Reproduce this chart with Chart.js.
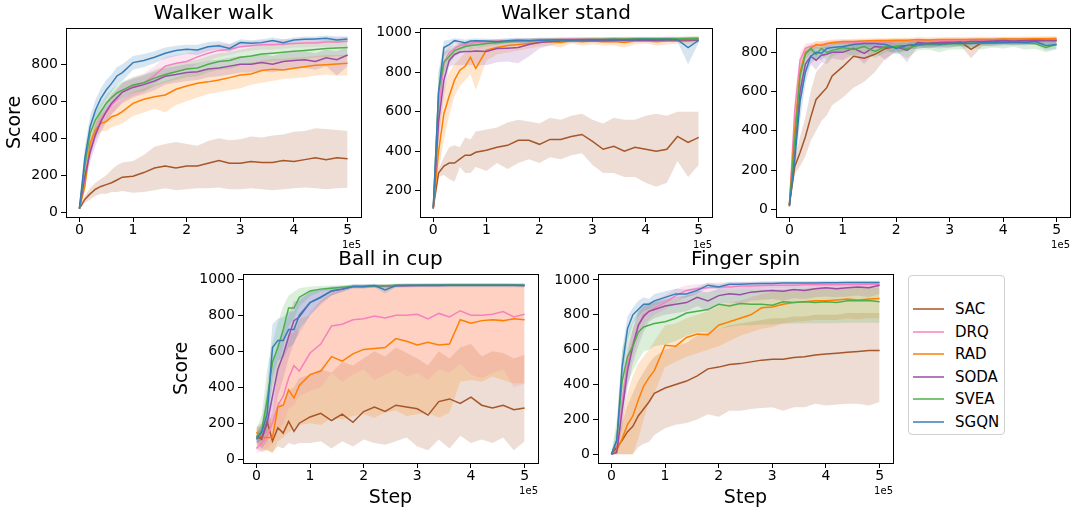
<!DOCTYPE html>
<html>
<head>
<meta charset="utf-8">
<script src="https://cdn.jsdelivr.net/npm/chart.js@4.4.0/dist/chart.umd.min.js"></script>
<style>
  body { margin: 0; background: #fff; }
  #page { position: relative; width: 1077px; height: 515px; overflow: hidden; background: #fff; }
  canvas { position: absolute; }
  #legend { position: absolute; left: 908px; top: 275px; width: 97px; height: 160px; border: 1px solid #d0d0d0; border-radius: 4px; box-sizing: border-box; font-family: 'DejaVu Sans', sans-serif; font-size: 15px; color: #000; }
  .row { position: absolute; left: 0; height: 22px; display: flex; align-items: center; }
  .swatch { width: 31px; height: 2px; margin-left: 4px; margin-right: 11px; opacity: 0.75; }
</style>
</head>
<body>
<div id="page"><div id="legend"></div></div>
<script>
// x positions of the logged evaluations (env steps)
const steps = [0, 1e4, 2e4, 3e4, 4e4, 5e4, 6e4, 7e4, 8e4, 10e4, 12e4, 14e4, 16e4, 18e4, 20e4, 22e4, 24e4, 26e4, 28e4, 30e4, 32e4, 34e4, 36e4, 38e4, 40e4, 42e4, 44e4, 46e4, 48e4, 50e4];
const methods = ['SAC', 'DRQ', 'RAD', 'SODA', 'SVEA', 'SGQN'];
const colors = ['#a65628', '#f781bf', '#ff7f00', '#984ea3', '#4daf4a', '#377eb8'];
const xTicks = [0, 1e5, 2e5, 3e5, 4e5, 5e5];

// === Walker walk === (rows: SAC, DRQ, RAD, SODA, SVEA, SGQN)
const walkerWalkMean = [
  [20, 70, 100, 125, 140, 150, 160, 175, 190, 195, 215, 240, 250, 240, 250, 250, 265, 280, 265, 265, 275, 270, 270, 280, 275, 285, 295, 285, 295, 290],
  [20, 200, 340, 440, 500, 540, 580, 610, 650, 680, 700, 740, 790, 805, 815, 840, 860, 875, 880, 895, 900, 905, 905, 910, 912, 915, 915, 920, 920, 925],
  [20, 139, 373, 445, 481, 490, 517, 526, 544, 589, 611, 625, 634, 665, 683, 697, 705, 715, 728, 742, 748, 766, 773, 769, 778, 787, 795, 798, 802, 805],
  [20, 190, 325, 420, 490, 545, 590, 620, 650, 675, 690, 710, 735, 745, 755, 760, 775, 780, 790, 800, 800, 810, 800, 815, 820, 825, 815, 835, 825, 850],
  [20, 250, 427, 500, 545, 590, 620, 645, 660, 688, 700, 725, 745, 760, 775, 780, 800, 815, 820, 838, 845, 855, 860, 865, 870, 875, 880, 885, 888, 890],
  [20, 290, 463, 553, 616, 661, 697, 737, 755, 809, 820, 838, 860, 874, 881, 877, 895, 900, 886, 917, 913, 917, 928, 917, 931, 935, 937, 940, 931, 937]
];
const walkerWalkLow = [
  [15, 50, 70, 90, 100, 100, 110, 110, 115, 106, 110, 120, 130, 120, 125, 130, 130, 135, 125, 125, 130, 125, 120, 125, 130, 135, 130, 125, 130, 133],
  [15, 160, 290, 390, 450, 490, 530, 560, 600, 630, 650, 690, 740, 760, 770, 800, 820, 840, 850, 865, 875, 880, 880, 885, 890, 890, 895, 895, 895, 900],
  [15, 110, 310, 400, 440, 440, 460, 470, 480, 520, 540, 560, 540, 580, 600, 620, 640, 650, 660, 670, 690, 700, 710, 720, 725, 730, 740, 745, 740, 740],
  [15, 140, 270, 360, 430, 490, 530, 560, 590, 620, 640, 660, 690, 700, 710, 715, 730, 735, 745, 755, 755, 765, 755, 770, 775, 780, 770, 790, 740, 790],
  [15, 200, 380, 450, 500, 545, 575, 600, 615, 645, 655, 680, 700, 715, 730, 735, 755, 770, 775, 795, 800, 810, 815, 820, 825, 830, 835, 840, 843, 845],
  [15, 230, 410, 500, 560, 610, 650, 690, 710, 770, 785, 805, 830, 845, 855, 850, 870, 880, 865, 900, 895, 900, 910, 900, 915, 920, 922, 925, 915, 922]
];
const walkerWalkHigh = [
  [25, 90, 130, 160, 180, 200, 230, 255, 270, 277, 310, 355, 370, 380, 369, 360, 385, 400, 390, 395, 410, 405, 415, 420, 436, 440, 455, 450, 445, 440],
  [25, 240, 390, 490, 550, 590, 630, 660, 700, 730, 750, 790, 840, 850, 860, 880, 900, 910, 910, 925, 925, 930, 930, 935, 935, 940, 935, 945, 945, 950],
  [25, 190, 420, 490, 530, 550, 570, 590, 610, 650, 670, 690, 710, 730, 750, 760, 770, 780, 790, 800, 810, 820, 830, 830, 835, 840, 845, 850, 850, 850],
  [25, 240, 380, 480, 550, 600, 640, 670, 700, 720, 740, 760, 780, 790, 800, 805, 820, 825, 835, 845, 845, 855, 845, 860, 865, 870, 860, 880, 870, 900],
  [25, 300, 470, 550, 590, 635, 665, 690, 705, 730, 745, 770, 790, 805, 820, 825, 845, 860, 865, 880, 890, 900, 905, 910, 915, 920, 925, 930, 933, 935],
  [25, 350, 520, 610, 670, 715, 745, 785, 800, 845, 855, 870, 890, 900, 905, 905, 920, 925, 910, 935, 930, 935, 945, 935, 945, 950, 950, 955, 950, 952]
];

// === Walker stand ===
const walkerStandMean = [
  [115, 290, 325, 340, 340, 360, 380, 380, 395, 405, 420, 430, 455, 455, 435, 460, 460, 475, 485, 450, 410, 425, 400, 420, 410, 400, 410, 475, 445, 470],
  [110, 600, 850, 900, 920, 935, 940, 945, 950, 955, 958, 960, 962, 963, 965, 965, 966, 967, 968, 968, 968, 969, 970, 970, 970, 970, 971, 971, 972, 972],
  [110, 400, 590, 680, 760, 810, 830, 875, 819, 912, 925, 935, 940, 945, 950, 955, 950, 960, 955, 958, 955, 955, 950, 958, 960, 955, 958, 960, 958, 965],
  [110, 550, 760, 860, 890, 902, 905, 905, 908, 905, 920, 922, 925, 940, 950, 955, 958, 960, 960, 960, 960, 961, 961, 962, 962, 962, 963, 963, 963, 962],
  [110, 700, 850, 880, 910, 920, 930, 935, 938, 945, 950, 955, 958, 960, 962, 963, 965, 965, 966, 967, 967, 968, 968, 969, 969, 970, 970, 970, 971, 972],
  [115, 700, 925, 940, 960, 955, 948, 958, 960, 958, 955, 960, 962, 960, 962, 963, 965, 963, 965, 964, 965, 966, 965, 966, 967, 966, 967, 965, 925, 962]
];
const walkerStandLow = [
  [110, 270, 280, 260, 245, 320, 290, 290, 320, 300, 340, 310, 340, 360, 340, 370, 360, 380, 390, 330, 290, 290, 270, 270, 240, 220, 240, 350, 270, 330],
  [100, 500, 780, 860, 890, 910, 920, 930, 935, 940, 945, 948, 950, 952, 955, 955, 956, 957, 958, 958, 958, 959, 960, 960, 960, 960, 961, 961, 962, 962],
  [100, 300, 460, 580, 680, 730, 760, 790, 710, 860, 890, 900, 910, 920, 930, 935, 925, 945, 935, 940, 935, 935, 925, 940, 945, 935, 940, 945, 940, 950],
  [100, 450, 680, 830, 835, 835, 835, 835, 838, 835, 850, 855, 845, 880, 920, 935, 945, 950, 950, 950, 950, 951, 951, 952, 952, 952, 953, 953, 953, 952],
  [100, 600, 800, 840, 880, 895, 910, 918, 922, 932, 938, 945, 948, 950, 953, 954, 956, 956, 957, 958, 958, 959, 959, 960, 960, 961, 961, 961, 962, 963],
  [105, 600, 880, 910, 945, 940, 930, 945, 948, 945, 940, 948, 950, 948, 952, 953, 955, 952, 955, 954, 955, 956, 955, 956, 957, 956, 957, 955, 840, 950]
];
const walkerStandHigh = [
  [120, 310, 370, 420, 430, 420, 470, 460, 500, 510, 520, 545, 560, 550, 540, 570, 560, 580, 590, 560, 540, 570, 560, 560, 580, 590, 580, 600, 600, 600],
  [120, 700, 900, 930, 945, 955, 958, 960, 962, 965, 968, 970, 972, 973, 975, 975, 976, 977, 978, 978, 978, 979, 980, 980, 980, 980, 981, 981, 982, 982],
  [120, 520, 720, 800, 840, 870, 900, 930, 920, 955, 960, 965, 965, 968, 970, 972, 970, 975, 972, 974, 972, 972, 970, 974, 975, 972, 974, 975, 974, 978],
  [120, 650, 840, 900, 930, 945, 950, 955, 958, 960, 965, 965, 968, 970, 972, 972, 972, 973, 973, 973, 973, 974, 974, 974, 975, 975, 975, 975, 975, 975],
  [120, 800, 900, 915, 935, 945, 950, 952, 955, 958, 962, 965, 968, 970, 971, 972, 974, 974, 975, 976, 976, 977, 977, 978, 978, 979, 979, 979, 980, 981],
  [125, 800, 960, 965, 972, 970, 965, 970, 972, 970, 968, 972, 974, 972, 974, 974, 976, 974, 976, 975, 976, 977, 976, 977, 977, 977, 977, 976, 960, 974]
];

// === Cartpole ===
const cartpoleMean = [
  [20, 217, 290, 370, 470, 560, 590, 620, 680, 727, 780, 770, 790, 820, 830, 835, 840, 845, 850, 845, 855, 815, 850, 855, 860, 855, 860, 858, 862, 860],
  [20, 500, 760, 820, 830, 835, 840, 842, 845, 848, 850, 850, 852, 853, 855, 856, 857, 858, 858, 860, 860, 861, 862, 862, 863, 863, 864, 864, 865, 865],
  [20, 400, 700, 800, 820, 840, 835, 845, 850, 855, 855, 858, 860, 860, 862, 862, 865, 863, 865, 866, 865, 866, 867, 866, 868, 868, 868, 869, 869, 870],
  [15, 300, 600, 740, 780, 760, 785, 790, 800, 800, 820, 795, 830, 825, 830, 810, 850, 845, 850, 852, 850, 855, 855, 858, 860, 858, 860, 862, 860, 860],
  [20, 350, 680, 790, 820, 790, 820, 800, 810, 825, 815, 830, 805, 830, 830, 820, 835, 840, 838, 845, 842, 848, 845, 850, 848, 852, 848, 845, 825, 840],
  [20, 250, 550, 700, 780, 800, 795, 820, 825, 830, 840, 845, 845, 840, 820, 835, 840, 845, 842, 845, 848, 845, 850, 848, 850, 852, 850, 855, 835, 840]
];
const cartpoleLow = [
  [15, 180, 220, 270, 350, 400, 450, 480, 530, 570, 620, 650, 700, 770, 800, 815, 820, 825, 830, 825, 835, 770, 830, 835, 840, 835, 840, 838, 842, 840],
  [15, 420, 700, 790, 810, 815, 820, 825, 828, 832, 835, 836, 838, 840, 842, 843, 844, 845, 846, 847, 848, 848, 849, 850, 850, 851, 851, 852, 852, 853],
  [15, 330, 640, 770, 800, 820, 815, 828, 835, 840, 842, 845, 848, 848, 850, 850, 852, 850, 852, 853, 850, 853, 854, 853, 855, 855, 855, 856, 856, 857],
  [10, 230, 520, 690, 740, 710, 750, 740, 770, 760, 790, 740, 800, 760, 810, 750, 830, 820, 830, 835, 830, 838, 838, 840, 843, 840, 843, 845, 843, 843],
  [15, 280, 620, 760, 800, 750, 790, 760, 780, 800, 780, 800, 770, 800, 800, 770, 810, 815, 800, 815, 815, 825, 815, 825, 820, 828, 815, 818, 800, 815],
  [15, 180, 450, 640, 740, 770, 760, 790, 800, 805, 820, 825, 825, 815, 790, 810, 820, 825, 820, 825, 830, 825, 835, 830, 835, 838, 835, 840, 810, 818]
];
const cartpoleHigh = [
  [25, 260, 370, 470, 600, 700, 730, 760, 800, 830, 850, 850, 855, 860, 860, 860, 862, 864, 866, 865, 868, 855, 866, 868, 870, 868, 870, 870, 872, 872],
  [25, 580, 800, 845, 850, 852, 856, 858, 860, 862, 864, 865, 866, 867, 868, 869, 869, 870, 871, 872, 872, 873, 874, 874, 875, 875, 876, 876, 877, 877],
  [25, 470, 760, 830, 840, 858, 855, 862, 865, 868, 868, 870, 872, 872, 874, 874, 877, 876, 877, 878, 878, 879, 880, 879, 880, 880, 881, 881, 882, 882],
  [20, 370, 680, 790, 820, 810, 820, 830, 830, 835, 845, 840, 855, 855, 850, 845, 865, 865, 866, 868, 866, 870, 870, 872, 874, 872, 874, 876, 874, 874],
  [25, 420, 740, 815, 840, 830, 845, 835, 840, 850, 845, 855, 835, 855, 855, 850, 858, 862, 860, 868, 865, 870, 868, 872, 870, 874, 872, 870, 850, 862],
  [25, 330, 650, 760, 820, 830, 825, 845, 848, 852, 858, 862, 862, 860, 845, 855, 858, 862, 860, 862, 865, 862, 866, 864, 866, 868, 866, 870, 858, 860]
];

// === Ball in cup ===
const ballInCupMean = [
  [130, 110, 210, 100, 175, 145, 210, 155, 200, 235, 255, 215, 250, 205, 265, 290, 265, 300, 290, 280, 245, 320, 335, 310, 345, 300, 285, 300, 275, 285],
  [60, 90, 130, 200, 300, 350, 450, 520, 490, 590, 640, 740, 750, 775, 780, 795, 785, 800, 800, 805, 780, 810, 790, 825, 800, 800, 805, 820, 790, 805],
  [150, 120, 120, 120, 290, 300, 385, 340, 410, 470, 490, 570, 545, 585, 610, 615, 620, 670, 655, 635, 650, 635, 640, 775, 755, 770, 775, 770, 780, 775],
  [120, 120, 200, 350, 500, 580, 680, 770, 790, 870, 900, 935, 945, 960, 960, 962, 963, 964, 964, 965, 965, 965, 966, 966, 966, 966, 966, 966, 966, 965],
  [120, 160, 330, 540, 620, 720, 840, 840, 900, 935, 945, 950, 955, 960, 960, 962, 964, 966, 967, 967, 968, 968, 968, 968, 968, 968, 968, 968, 968, 968],
  [110, 150, 250, 620, 660, 660, 720, 720, 800, 870, 900, 935, 945, 960, 960, 965, 940, 965, 966, 966, 966, 966, 967, 967, 967, 967, 967, 967, 966, 965]
];
const ballInCupLow = [
  [60, 40, 50, 40, 70, 60, 90, 80, 90, 90, 100, 60, 100, 70, 110, 90, 80, 100, 120, 70, 50, 110, 60, 130, 90, 110, 90, 120, 50, 100],
  [30, 50, 60, 90, 150, 200, 280, 300, 350, 380, 400, 480, 430, 470, 500, 440, 470, 500, 460, 480, 440, 500, 480, 530, 470, 450, 480, 500, 400, 420],
  [100, 60, 50, 30, 100, 120, 150, 170, 190, 200, 190, 230, 220, 240, 250, 230, 260, 270, 240, 250, 260, 230, 260, 430, 440, 430, 460, 440, 420, 420],
  [90, 60, 100, 200, 350, 450, 560, 650, 700, 800, 860, 910, 930, 950, 950, 952, 953, 954, 954, 955, 955, 955, 956, 956, 956, 956, 956, 956, 956, 955],
  [90, 100, 200, 400, 500, 620, 740, 780, 850, 905, 930, 940, 945, 950, 950, 953, 955, 957, 958, 958, 959, 959, 959, 959, 959, 959, 959, 959, 959, 959],
  [90, 110, 150, 450, 550, 560, 620, 640, 720, 800, 870, 910, 930, 950, 950, 955, 920, 955, 957, 957, 957, 957, 958, 958, 958, 958, 958, 958, 957, 956]
];
const ballInCupHigh = [
  [180, 200, 300, 180, 320, 300, 380, 400, 450, 470, 500, 480, 540, 520, 560, 600, 570, 620, 590, 560, 520, 600, 560, 620, 640, 570, 600, 590, 560, 580],
  [100, 150, 230, 350, 500, 560, 650, 740, 700, 820, 880, 930, 950, 955, 958, 960, 960, 960, 960, 960, 960, 960, 960, 960, 960, 960, 960, 960, 960, 960],
  [180, 180, 200, 250, 500, 600, 700, 700, 780, 800, 880, 920, 940, 950, 955, 960, 960, 962, 962, 962, 962, 963, 963, 963, 963, 963, 963, 963, 963, 963],
  [150, 180, 320, 500, 650, 720, 800, 880, 880, 930, 940, 955, 960, 970, 970, 972, 972, 973, 973, 974, 974, 974, 975, 975, 975, 975, 975, 975, 975, 975],
  [160, 250, 500, 650, 760, 850, 910, 930, 950, 960, 962, 965, 966, 970, 970, 972, 973, 975, 976, 976, 977, 977, 977, 977, 977, 977, 977, 977, 977, 977],
  [140, 200, 400, 750, 780, 790, 820, 820, 900, 935, 950, 960, 962, 970, 970, 975, 960, 975, 976, 976, 976, 976, 977, 977, 977, 977, 977, 977, 976, 975]
];

// === Finger spin ===
const fingerSpinMean = [
  [0, 40, 80, 130, 160, 220, 260, 300, 350, 380, 400, 420, 450, 490, 500, 515, 520, 530, 540, 545, 545, 555, 560, 570, 575, 580, 585, 590, 595, 595],
  [0, 20, 300, 520, 640, 730, 800, 820, 840, 870, 910, 940, 950, 955, 960, 960, 965, 965, 968, 970, 970, 970, 972, 972, 973, 973, 974, 974, 975, 975],
  [0, 20, 90, 170, 220, 310, 390, 440, 480, 625, 620, 670, 690, 685, 740, 760, 780, 800, 840, 845, 860, 870, 875, 880, 880, 885, 890, 885, 890, 893],
  [0, 10, 250, 480, 620, 740, 790, 820, 830, 850, 860, 870, 900, 880, 910, 920, 915, 930, 935, 940, 935, 945, 940, 950, 955, 950, 955, 960, 955, 970],
  [0, 80, 420, 560, 620, 700, 730, 740, 750, 760, 780, 810, 820, 830, 860, 850, 865, 860, 860, 855, 875, 870, 875, 870, 875, 870, 880, 880, 882, 875],
  [0, 80, 500, 720, 800, 830, 860, 860, 880, 900, 920, 920, 940, 970, 960, 975, 975, 978, 980, 980, 982, 982, 983, 983, 984, 984, 985, 985, 985, 985]
];
const fingerSpinLow = [
  [0, 0, 0, 0, 0, 40, 60, 70, 110, 150, 170, 180, 200, 230, 215, 250, 250, 260, 265, 270, 250, 270, 270, 290, 280, 285, 290, 290, 280, 300],
  [0, 0, 200, 430, 560, 660, 740, 770, 800, 830, 870, 900, 920, 930, 935, 940, 945, 945, 950, 952, 952, 953, 955, 955, 956, 956, 957, 957, 958, 958],
  [0, 0, 0, 0, 0, 90, 200, 300, 350, 500, 530, 560, 580, 600, 620, 650, 680, 700, 720, 730, 750, 760, 765, 770, 770, 770, 780, 775, 780, 780],
  [0, 0, 150, 380, 520, 620, 700, 760, 780, 800, 810, 820, 850, 820, 860, 870, 860, 880, 885, 890, 880, 895, 890, 900, 905, 900, 905, 910, 900, 920],
  [0, 20, 250, 400, 480, 540, 590, 600, 620, 630, 650, 680, 700, 700, 720, 730, 740, 740, 745, 745, 750, 750, 752, 752, 752, 752, 755, 755, 755, 755],
  [0, 30, 400, 650, 750, 790, 820, 830, 850, 875, 895, 900, 920, 955, 945, 962, 962, 966, 968, 968, 970, 970, 972, 972, 973, 973, 974, 974, 974, 974]
];
const fingerSpinHigh = [
  [10, 80, 180, 280, 350, 420, 470, 520, 560, 600, 620, 640, 680, 700, 720, 740, 750, 760, 770, 780, 780, 790, 790, 800, 800, 800, 810, 810, 810, 810],
  [5, 60, 420, 620, 720, 800, 850, 870, 880, 910, 950, 970, 975, 980, 985, 985, 988, 988, 988, 988, 988, 988, 989, 989, 990, 990, 990, 990, 990, 990],
  [10, 60, 200, 350, 450, 520, 560, 600, 650, 740, 750, 780, 800, 820, 850, 870, 880, 900, 920, 930, 940, 945, 950, 955, 955, 958, 960, 960, 962, 965],
  [5, 40, 350, 580, 720, 820, 860, 870, 880, 890, 900, 910, 940, 930, 950, 960, 960, 965, 968, 970, 968, 972, 970, 975, 978, 975, 978, 980, 978, 985],
  [5, 200, 600, 700, 760, 820, 850, 860, 870, 880, 890, 910, 920, 930, 940, 940, 945, 945, 948, 948, 950, 950, 952, 952, 952, 952, 955, 955, 955, 955],
  [10, 150, 600, 790, 840, 880, 900, 890, 920, 935, 950, 945, 960, 985, 975, 990, 990, 990, 992, 992, 994, 994, 994, 994, 995, 995, 995, 995, 995, 995]
];

// panel layout (plot box in page pixels)
const FONT = "'DejaVu Sans', sans-serif";
const panels = [
  {title: 'Walker walk', mean: walkerWalkMean, low: walkerWalkLow, high: walkerWalkHigh,
   box: [66, 28, 361, 217], yW: 66, xH: 35, ymin: -25, ymax: 996, yTicks: [0, 200, 400, 600, 800], score: true, step: false},
  {title: 'Walker stand', mean: walkerStandMean, low: walkerStandLow, high: walkerStandHigh,
   box: [420, 28, 712, 217], yW: 60, xH: 35, ymin: 67, ymax: 1024, yTicks: [200, 400, 600, 800, 1000], score: false, step: false},
  {title: 'Cartpole', mean: cartpoleMean, low: cartpoleLow, high: cartpoleHigh,
   box: [776, 28, 1070, 217], yW: 60, xH: 35, ymin: -39, ymax: 924, yTicks: [0, 200, 400, 600, 800], score: false, step: false},
  {title: 'Ball in cup', mean: ballInCupMean, low: ballInCupLow, high: ballInCupHigh,
   box: [243, 274, 538, 463], yW: 76, xH: 48, ymin: -21, ymax: 1029, yTicks: [0, 200, 400, 600, 800, 1000], score: true, step: true},
  {title: 'Finger spin', mean: fingerSpinMean, low: fingerSpinLow, high: fingerSpinHigh,
   box: [598, 274, 893, 463], yW: 60, xH: 48, ymin: -50, ymax: 1034, yTicks: [0, 200, 400, 600, 800, 1000], score: false, step: true}
];
const TITLE_H = 30;
const PAD_R = 12;

const rgba = (hex, a) => {
  const n = parseInt(hex.slice(1), 16);
  return `rgba(${(n >> 16) & 255}, ${(n >> 8) & 255}, ${n & 255}, ${a})`;
};

// seaborn style: shaded band (low..high) under each mean line
const buildDatasets = (mean, low, high) => {
  const sets = [];
  const pts = (arr, i) => steps.map((s, k) => ({x: s, y: arr[i][k]}));
  methods.forEach((name, i) => {
    sets.push({label: name + ' low', data: pts(low, i), borderWidth: 0, borderColor: 'rgba(0,0,0,0)',
      pointRadius: 0, fill: false, order: 20 + 5 - i});
    sets.push({label: name + ' high', data: pts(high, i), borderWidth: 0, borderColor: 'rgba(0,0,0,0)',
      pointRadius: 0, fill: '-1', backgroundColor: rgba(colors[i], 0.2), order: 20 + 5 - i});
  });
  methods.forEach((name, i) => {
    sets.push({label: name, data: pts(mean, i), borderColor: colors[i], borderWidth: 1.5,
      pointRadius: 0, fill: false, order: 5 - i});
  });
  return sets;
};

// black frame round the plot + the "1e5" offset text
const framePlugin = {
  id: 'frame',
  afterDraw(chart) {
    const {ctx, chartArea: a} = chart;
    ctx.save();
    ctx.strokeStyle = '#000';
    ctx.lineWidth = 1;
    ctx.strokeRect(Math.round(a.left) + 0.5, Math.round(a.top) + 0.5, Math.round(a.right - a.left), Math.round(a.bottom - a.top));
    ctx.fillStyle = '#000';
    ctx.font = '10px ' + FONT;
    ctx.textAlign = 'right';
    ctx.textBaseline = 'middle';
    ctx.fillText('1e5', a.right, a.bottom + 28);
    ctx.restore();
  }
};

Chart.defaults.font.family = FONT;
Chart.defaults.color = '#000';

const page = document.getElementById('page');
panels.forEach((p) => {
  const [l, t, r, b] = p.box;
  const canvas = document.createElement('canvas');
  const w = p.yW + (r - l) + PAD_R;
  const h = TITLE_H + (b - t) + p.xH;
  canvas.width = w;
  canvas.height = h;
  canvas.style.left = (l - p.yW) + 'px';
  canvas.style.top = (t - TITLE_H) + 'px';
  page.appendChild(canvas);

  new Chart(canvas, {
    type: 'line',
    data: {datasets: buildDatasets(p.mean, p.low, p.high)},
    plugins: [framePlugin],
    options: {
      responsive: false,
      devicePixelRatio: 1,
      animation: false,
      events: [],
      layout: {padding: {left: 0, right: PAD_R, top: 0, bottom: 0}},
      elements: {line: {tension: 0}, point: {radius: 0, hoverRadius: 0}},
      plugins: {
        legend: {display: false},
        tooltip: {enabled: false},
        title: {display: true, text: p.title, fullSize: false, color: '#000',
          font: {size: 20, weight: 'normal'}, padding: {top: 4, bottom: 2}}
      },
      scales: {
        x: {
          type: 'linear', min: -25000, max: 525000,
          afterBuildTicks: (s) => { s.ticks = xTicks.map((v) => ({value: v})); },
          afterFit: (s) => { s.height = p.xH; },
          grid: {display: true, drawOnChartArea: false, drawTicks: true, tickLength: 5, color: '#000', lineWidth: 1},
          border: {display: false},
          ticks: {font: {size: 14}, color: '#000', padding: 0, maxRotation: 0, autoSkip: false,
            callback: (v) => String(v / 1e5)},
          title: {display: p.step, text: 'Step', color: '#000', font: {size: 19}, padding: {top: 0, bottom: 2}}
        },
        y: {
          type: 'linear', min: p.ymin, max: p.ymax,
          afterBuildTicks: (s) => { s.ticks = p.yTicks.map((v) => ({value: v})); },
          afterFit: (s) => { s.width = p.yW; },
          grid: {display: true, drawOnChartArea: false, drawTicks: true, tickLength: 5, color: '#000', lineWidth: 1},
          border: {display: false},
          ticks: {font: {size: 14}, color: '#000', padding: 3, autoSkip: false, callback: (v) => String(v)},
          title: {display: p.score, text: 'Score', color: '#000', font: {size: 19}, padding: {top: 4, bottom: 0}}
        }
      }
    }
  });
});

// legend box on the right of the lower row
const legend = document.getElementById('legend');
methods.forEach((name, i) => {
  const row = document.createElement('div');
  row.className = 'row';
  row.style.top = (34 + 22.5 * i - 11 - 1) + 'px';
  const sw = document.createElement('span');
  sw.className = 'swatch';
  sw.style.background = colors[i];
  const txt = document.createElement('span');
  txt.textContent = name;
  row.appendChild(sw);
  row.appendChild(txt);
  legend.appendChild(row);
});
</script>
</body>
</html>
